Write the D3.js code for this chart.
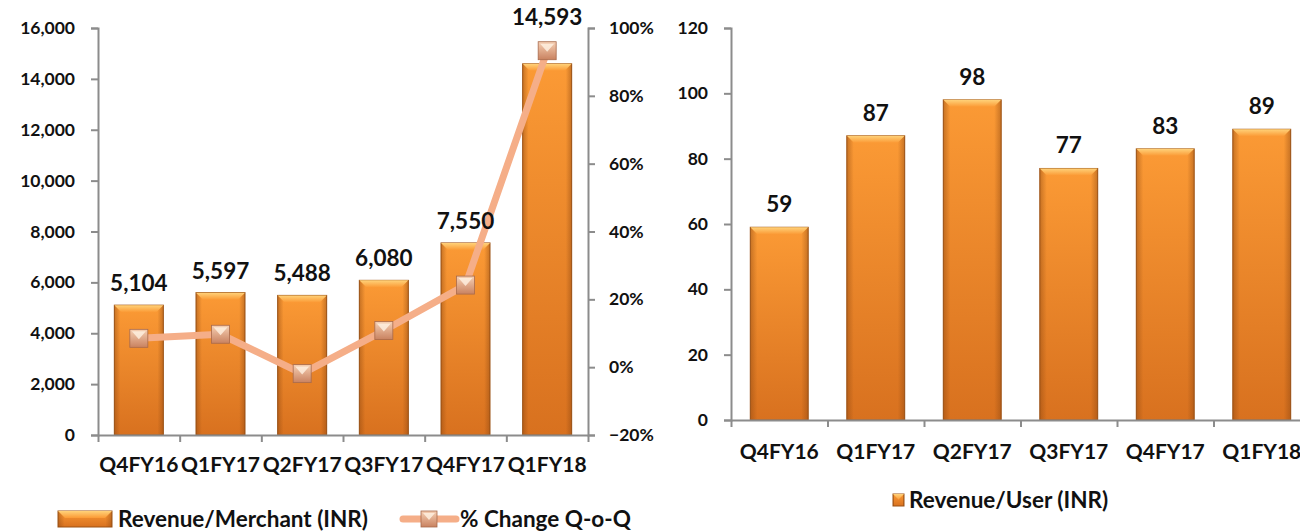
<!DOCTYPE html>
<html lang="en">
<head>
<meta charset="utf-8">
<title>Revenue per Merchant / User</title>
<script src="https://cdn.jsdelivr.net/npm/d3@7"></script>
<style>
  body { margin: 0; background: #fff; }
  text { font-family: Lato, "Open Sans", sans-serif; font-weight: bold; fill: #111; }
</style>
</head>
<body>
<svg id="chart" width="1300" height="531"></svg>
<script>
// data
var quarters = ["Q4FY16", "Q1FY17", "Q2FY17", "Q3FY17", "Q4FY17", "Q1FY18"];
var revMerchant = [5104, 5597, 5488, 6080, 7550, 14593];
var pctChange = [0.085, 0.097, -0.019, 0.108, 0.242, 0.933];
var revUser = [59, 87, 98, 77, 83, 89];
var leftTicks = [0, 2000, 4000, 6000, 8000, 10000, 12000, 14000, 16000];
var pctTicks = [-0.2, 0, 0.2, 0.4, 0.6, 0.8, 1.0];
var rightTicks = [0, 20, 40, 60, 80, 100, 120];

var svg = d3.select("#chart");
var defs = svg.append("defs");

var barGrad = defs.append("linearGradient").attr("id", "barGrad")
  .attr("x1", 0).attr("y1", 0).attr("x2", 0).attr("y2", 1);
barGrad.append("stop").attr("offset", "0%").attr("stop-color", "#fb9a35");
barGrad.append("stop").attr("offset", "100%").attr("stop-color", "#d8711f");

var sideGrad = defs.append("linearGradient").attr("id", "sideGrad")
  .attr("x1", 0).attr("y1", 0).attr("x2", 1).attr("y2", 0);
sideGrad.append("stop").attr("offset", "0%").attr("stop-color", "#8a4510").attr("stop-opacity", 0.45);
sideGrad.append("stop").attr("offset", "12%").attr("stop-color", "#8a4510").attr("stop-opacity", 0);
sideGrad.append("stop").attr("offset", "88%").attr("stop-color", "#8a4510").attr("stop-opacity", 0);
sideGrad.append("stop").attr("offset", "100%").attr("stop-color", "#8a4510").attr("stop-opacity", 0.45);

var topGrad = defs.append("linearGradient").attr("id", "topGrad")
  .attr("x1", 0).attr("y1", 0).attr("x2", 0).attr("y2", 1);
topGrad.append("stop").attr("offset", "0%").attr("stop-color", "#ffd27a");
topGrad.append("stop").attr("offset", "100%").attr("stop-color", "#fb9a35");

var mkGrad = defs.append("linearGradient").attr("id", "mkGrad")
  .attr("x1", 0).attr("y1", 0).attr("x2", 0).attr("y2", 1);
mkGrad.append("stop").attr("offset", "0%").attr("stop-color", "#f6d0b4");
mkGrad.append("stop").attr("offset", "100%").attr("stop-color", "#c98260");

function drawBar(g, x, y, w, h) {
  g.append("rect").attr("x", x).attr("y", y).attr("width", w).attr("height", h)
    .attr("fill", "url(#barGrad)").attr("stroke", "#9c5214").attr("stroke-width", 1);
  g.append("rect").attr("x", x).attr("y", y).attr("width", w).attr("height", h)
    .attr("fill", "url(#sideGrad)");
  var b = Math.min(7, h / 2);
  g.append("path")
    .attr("d", `M${x},${y}L${x + w},${y}L${x + w - b},${y + b}L${x + b},${y + b}Z`)
    .attr("fill", "url(#topGrad)");
}

function axisStyle(sel) {
  sel.selectAll(".domain").attr("stroke", "#8c8c8c").attr("stroke-width", 2);
  sel.selectAll(".tick line").attr("stroke", "#8c8c8c").attr("stroke-width", 2);
  sel.selectAll(".tick text").attr("font-size", "17.5px").attr("font-family", "Lato, sans-serif").attr("font-weight", "900").attr("fill", "#111");
}

// ---------- left chart ----------
var L = {left: 98, right: 588, top: 28, bottom: 435};
var x1 = d3.scaleBand().domain(quarters).range([L.left, L.right]).paddingInner(0.4).paddingOuter(0.2);
var y1 = d3.scaleLinear().domain([0, 16000]).range([L.bottom, L.top]);
var yp = d3.scaleLinear().domain([-0.2, 1.0]).range([L.bottom, L.top]);

var gl = svg.append("g");
quarters.forEach(function(q, i) {
  drawBar(gl, x1(q), y1(revMerchant[i]), x1.bandwidth(), L.bottom - y1(revMerchant[i]));
});

var ax1 = svg.append("g").attr("transform", `translate(${L.left},0)`)
  .call(d3.axisLeft(y1).tickValues(leftTicks).tickFormat(d3.format(",")).tickSize(7).tickPadding(16));
axisStyle(ax1);

var ax1r = svg.append("g").attr("transform", `translate(${L.right},0)`)
  .call(d3.axisRight(yp).tickValues(pctTicks).tickFormat(d3.format(".0%")).tickSize(7).tickPadding(14));
axisStyle(ax1r);

var bx1 = d3.scaleLinear().domain([0, quarters.length]).range([L.left, L.right]);
var ax1b = svg.append("g").attr("transform", `translate(0,${L.bottom})`)
  .call(d3.axisBottom(bx1).tickValues(d3.range(quarters.length + 1)).tickFormat("").tickSize(7).tickSizeOuter(0));
axisStyle(ax1b);

svg.append("g").selectAll("text").data(quarters).join("text")
  .attr("x", d => x1(d) + x1.bandwidth() / 2)
  .attr("y", 472).attr("text-anchor", "middle").attr("font-size", "21px").text(d => d);

// percent line
var line = d3.line().x((d, i) => x1(quarters[i]) + x1.bandwidth() / 2).y(d => yp(d));
svg.append("path").datum(pctChange).attr("d", line)
  .attr("fill", "none").attr("stroke", "#f5ae88").attr("stroke-width", 7).attr("stroke-linejoin", "round");

function marker(g, cx, cy, s) {
  g.append("rect").attr("x", cx - s / 2).attr("y", cy - s / 2).attr("width", s).attr("height", s)
    .attr("fill", "url(#mkGrad)").attr("stroke", "#a86a4c").attr("stroke-width", 0.8);
  g.append("path")
    .attr("d", `M${cx - s / 2 + 2},${cy - s / 2 + 2}L${cx + s / 2 - 2},${cy - s / 2 + 2}L${cx},${cy + 1}Z`)
    .attr("fill", "#fff3e4").attr("opacity", 0.8);
}
var gm = svg.append("g");
pctChange.forEach(function(p, i) {
  marker(gm, x1(quarters[i]) + x1.bandwidth() / 2, yp(p), 18);
});

svg.append("g").selectAll("text").data(revMerchant).join("text")
  .attr("x", (d, i) => x1(quarters[i]) + x1.bandwidth() / 2)
  .attr("y", (d, i) => Math.min(y1(d), yp(pctChange[i]) - 12) - 14)
  .attr("text-anchor", "middle").attr("font-size", "22.5px").text(d => d3.format(",")(d));

// legend left
var lg = svg.append("g");
drawBar(lg, 58, 511, 54, 16);
lg.append("text").attr("x", 118).attr("y", 527).attr("font-size", "22.5px").text("Revenue/Merchant (INR)");
lg.append("line").attr("x1", 403).attr("x2", 456).attr("y1", 519).attr("y2", 519)
  .attr("stroke", "#f5ae88").attr("stroke-width", 7).attr("stroke-linecap", "round");
marker(lg, 429, 519, 16);
lg.append("text").attr("x", 460).attr("y", 527).attr("font-size", "22.5px").text("% Change Q-o-Q");

// ---------- right chart ----------
var R = {left: 731, right: 1310, top: 28, bottom: 420};
var x2 = d3.scaleBand().domain(quarters).range([R.left, R.right]).paddingInner(0.4).paddingOuter(0.2);
var y2 = d3.scaleLinear().domain([0, 120]).range([R.bottom, R.top]);

var gr = svg.append("g");
quarters.forEach(function(q, i) {
  drawBar(gr, x2(q), y2(revUser[i]), x2.bandwidth(), R.bottom - y2(revUser[i]));
});

var ax2 = svg.append("g").attr("transform", `translate(${R.left},0)`)
  .call(d3.axisLeft(y2).tickValues(rightTicks).tickSize(7).tickPadding(16));
axisStyle(ax2);

var bx2 = d3.scaleLinear().domain([0, quarters.length]).range([R.left, R.right]);
var ax2b = svg.append("g").attr("transform", `translate(0,${R.bottom})`)
  .call(d3.axisBottom(bx2).tickValues(d3.range(quarters.length + 1)).tickFormat("").tickSize(7).tickSizeOuter(0));
axisStyle(ax2b);

svg.append("g").selectAll("text").data(quarters).join("text")
  .attr("x", d => x2(d) + x2.bandwidth() / 2)
  .attr("y", 459).attr("text-anchor", "middle").attr("font-size", "21px").text(d => d);

svg.append("g").selectAll("text").data(revUser).join("text")
  .attr("x", (d, i) => x2(quarters[i]) + x2.bandwidth() / 2)
  .attr("y", d => y2(d) - 15)
  .attr("text-anchor", "middle").attr("font-size", "22.5px").text(d => d);

var rg = svg.append("g");
drawBar(rg, 893, 494, 11, 12);
rg.append("text").attr("x", 909).attr("y", 508).attr("font-size", "22.5px").text("Revenue/User (INR)");
</script>
</body>
</html>
